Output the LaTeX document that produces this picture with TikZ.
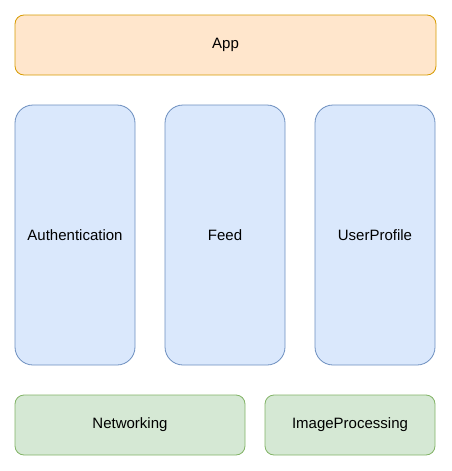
\documentclass[tikz,border=0pt]{standalone}
\usepackage{fontspec}
\setmainfont{Liberation Sans}
\definecolor{appfill}{HTML}{FFE6CC}
\definecolor{appline}{HTML}{D79B00}
\definecolor{modfill}{HTML}{DAE8FC}
\definecolor{modline}{HTML}{6C8EBF}
\definecolor{corefill}{HTML}{D5E8D4}
\definecolor{coreline}{HTML}{82B366}
\tikzset{
  layerbox/.style={draw, line width=0.8pt, inner sep=0pt, font=\fontsize{15}{18}\selectfont},
  appbox/.style={layerbox, fill=appfill, draw=appline, rounded corners=9pt},
  modbox/.style={layerbox, fill=modfill, draw=modline, rounded corners=18pt, minimum width=120pt, minimum height=260pt},
  corebox/.style={layerbox, fill=corefill, draw=coreline, rounded corners=9pt, minimum height=60pt}
}
\begin{document}
\begin{tikzpicture}[x=1pt,y=-1pt]

        \useasboundingbox (0,0) rectangle (451,471);

        % app layer
        \node [appbox, minimum width=421pt, minimum height=60pt] (app) at (225.5,45) {App};

        % feature modules
        \node [modbox] (auth) at (75,235) {Authentication};
        \node [modbox] (feed) at (225,235) {Feed};
        \node [modbox] (profile) at (375,235) {UserProfile};

        % core modules
        \node [corebox, minimum width=230pt] (net) at (130,425) {Networking};
        \node [corebox, minimum width=170pt] (img) at (350,425) {ImageProcessing};

\end{tikzpicture}
\end{document}
